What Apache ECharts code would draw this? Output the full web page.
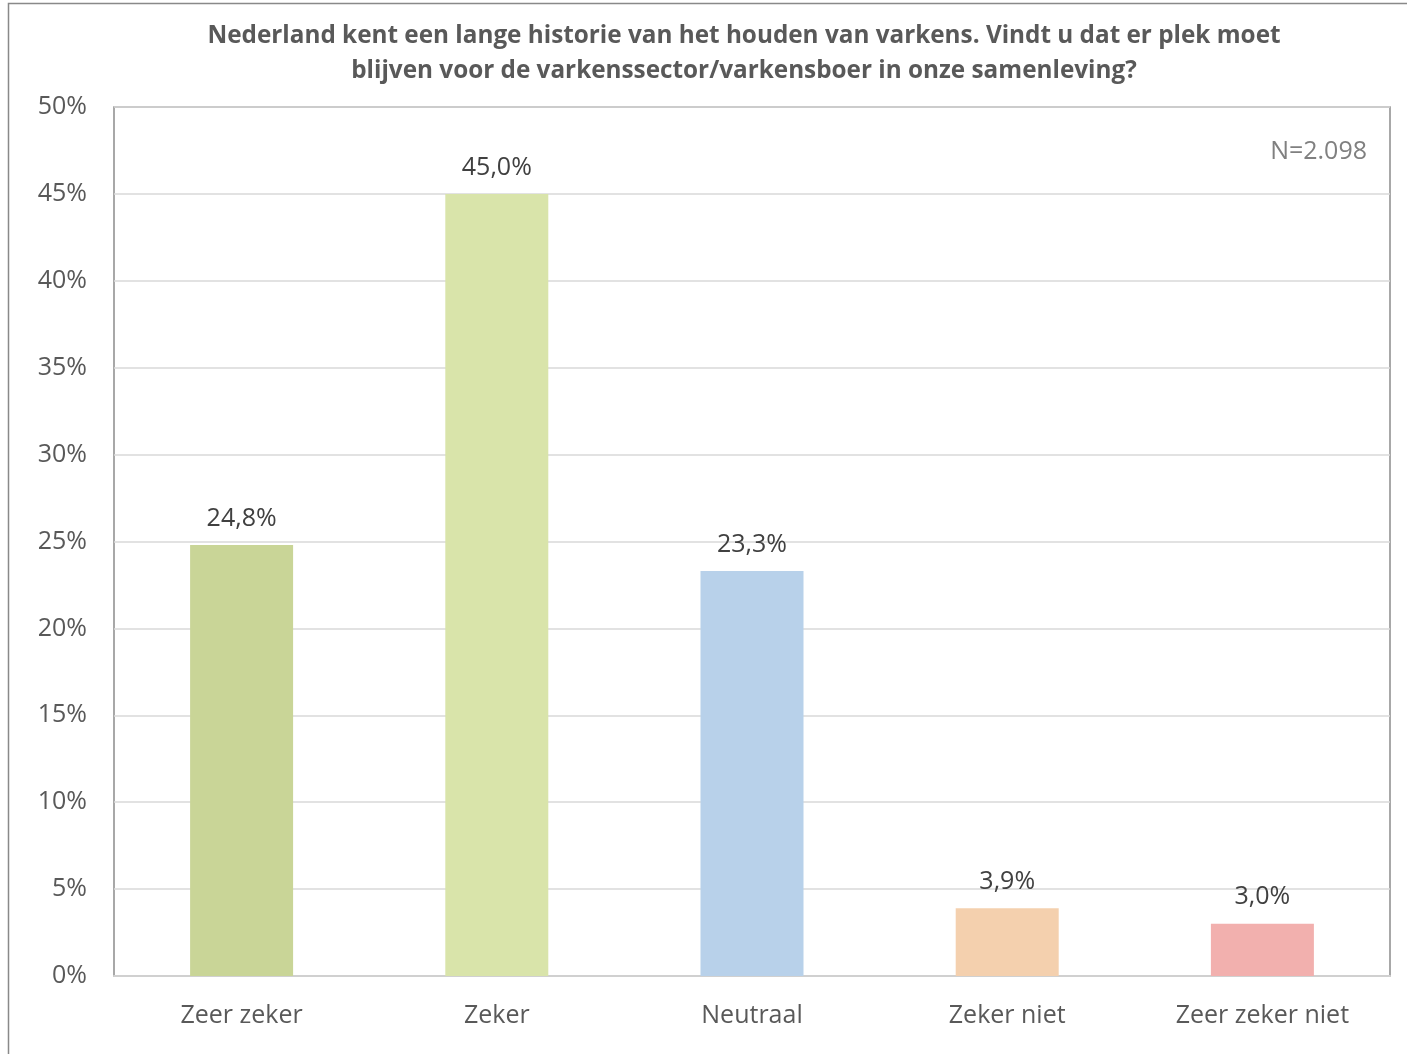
<!DOCTYPE html>
<html><head><meta charset="utf-8">
<script src="https://cdn.jsdelivr.net/npm/echarts@6/dist/echarts.min.js"></script>
<style>html,body{margin:0;padding:0;background:#fff}#c{width:1407px;height:1054px}</style>
</head><body><div id="c"></div>
<script>
const categories = ['Zeer zeker', 'Zeker', 'Neutraal', 'Zeker niet', 'Zeer zeker niet'];
const values = [24.8, 45.0, 23.3, 3.9, 3.0];
const barColors = ['#c9d597', '#d9e4aa', '#b8d1ea', '#f4d0ae', '#f2b0ae'];
const yTicks = [0, 5, 10, 15, 20, 25, 30, 35, 40, 45, 50];
const titleText = 'Nederland kent een lange historie van het houden van varkens. Vindt u dat er plek moet\nblijven voor de varkenssector/varkensboer in onze samenleving?';
const noteText = 'N=2.098';

const FONT = 'Open Sans';
const chart = echarts.init(document.getElementById('c'));
chart.setOption({
  animation: false,
  backgroundColor: '#fff',
  title: {
    text: titleText,
    left: 739, top: 14, textAlign: 'center',
    textStyle: {fontFamily: FONT, fontSize: 24.3, fontWeight: 'bold', color: '#595959', lineHeight: 35}
  },
  graphic: [
    {type: 'rect', shape: {x: 8.5, y: 3.5, width: 1420, height: 1080}, style: {fill: 'none', stroke: '#898989', lineWidth: 1.5}, silent: true},
    {type: 'text', right: 40, top: 139, style: {text: noteText, font: '25px "Open Sans"', fill: '#808080'}}
  ],
  grid: {left: 114, top: 107, width: 1276, height: 869, show: true, borderColor: '#8c8c8c', borderWidth: 1.5, backgroundColor: 'transparent'},
  xAxis: {
    type: 'category', data: categories,
    axisLine: {lineStyle: {color: '#d0d0d0', width: 2}},
    axisTick: {show: false},
    axisLabel: {fontFamily: FONT, fontSize: 25, color: '#595959', margin: 27}
  },
  yAxis: {
    type: 'value', min: 0, max: 50, interval: 5,
    axisLine: {show: false}, axisTick: {show: false},
    splitLine: {lineStyle: {color: '#d9d9d9', width: 1.5}},
    axisLabel: {fontFamily: FONT, fontSize: 25, color: '#595959', margin: 27,
      formatter: v => yTicks.includes(v) ? v + '%' : ''}
  },
  series: [{
    type: 'bar', barWidth: 103,
    data: values.map((v, i) => ({value: v, itemStyle: {color: barColors[i]}})),
    label: {show: true, position: 'top', distance: 14, fontFamily: FONT, fontSize: 25, color: '#404040',
      formatter: p => p.value.toFixed(1).replace('.', ',') + '%'}
  }]
});
</script></body></html>
